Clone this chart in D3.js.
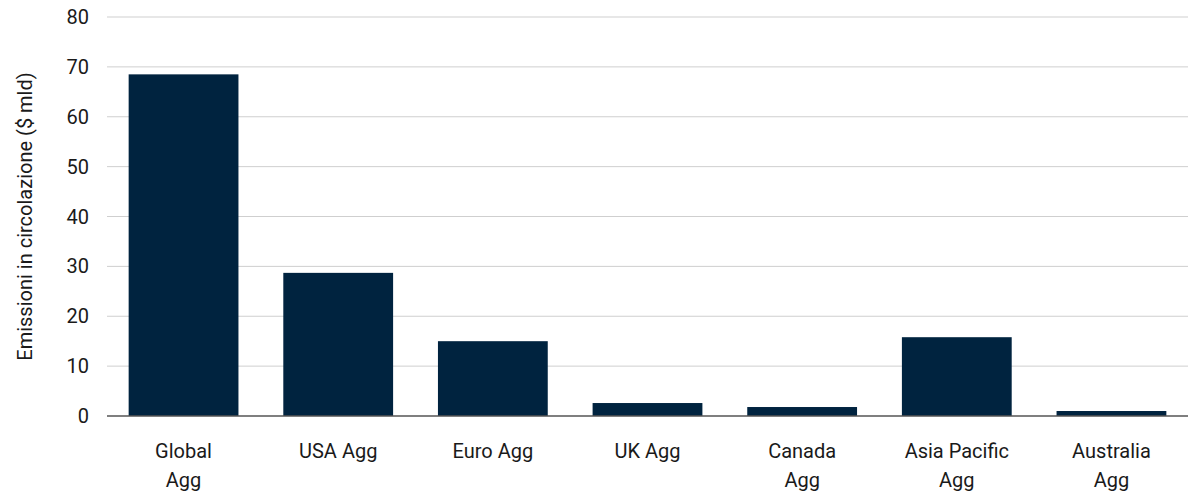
<!DOCTYPE html>
<html><head><meta charset="utf-8">
<script src="https://cdn.jsdelivr.net/npm/d3@7"></script>
<style>body{margin:0;background:#fff}text{font-family:Roboto,"Noto Sans",sans-serif;fill:#1a1a1a}</style>
</head><body>
<svg id="c" width="1200" height="502"></svg>
<script>
const categories = [["Global","Agg"],["USA Agg"],["Euro Agg"],["UK Agg"],["Canada","Agg"],["Asia Pacific","Agg"],["Australia","Agg"]];
const values = [68.5, 28.7, 15.0, 2.6, 1.8, 15.8, 1.0];
const yTicks = [0,10,20,30,40,50,60,70,80];
const yLabel = "Emissioni in circolazione ($ mld)";

const svg = d3.select("#c");
const m = {l:107, r:12, t:17, b:86};
const W = 1200, H = 502;
const x = d3.scaleBand().domain(d3.range(categories.length)).range([m.l, W-m.r]).paddingInner(0.29).paddingOuter(0.14);
const y = d3.scaleLinear().domain([0,80]).range([H-m.b, m.t]);

svg.append("g").selectAll("line").data(yTicks.slice(1)).join("line")
  .attr("x1", m.l).attr("x2", W-m.r).attr("y1", d=>y(d)).attr("y2", d=>y(d))
  .attr("stroke", "#cfcfcf").attr("stroke-width", 1);

svg.append("g").selectAll("rect").data(values).join("rect")
  .attr("x", (d,i)=>x(i)).attr("width", x.bandwidth())
  .attr("y", d=>y(d)).attr("height", d=>y(0)-y(d)).attr("fill", "#00233f");

svg.append("line").attr("x1", m.l).attr("x2", W-m.r).attr("y1", y(0)).attr("y2", y(0))
  .attr("stroke", "#555").attr("stroke-width", 1.5);

svg.append("g").selectAll("text").data(yTicks).join("text")
  .attr("x", 89).attr("y", d=>y(d)).attr("dy", "0.35em").attr("text-anchor", "end")
  .attr("font-size", 20).text(d=>d);

const xl = svg.append("g").selectAll("text").data(categories).join("text")
  .attr("text-anchor", "middle").attr("font-size", 20)
  .attr("transform", (d,i)=>`translate(${x(i)+x.bandwidth()/2},${y(0)+42})`);
xl.selectAll("tspan").data(d=>d).join("tspan").attr("x",0).attr("dy",(d,j)=>j? "1.45em":0).text(d=>d);

svg.append("text").attr("transform", `translate(32,${(m.t+H-m.b)/2}) rotate(-90)`)
  .attr("text-anchor", "middle").attr("font-size", 20).text(yLabel);
</script></body></html>
